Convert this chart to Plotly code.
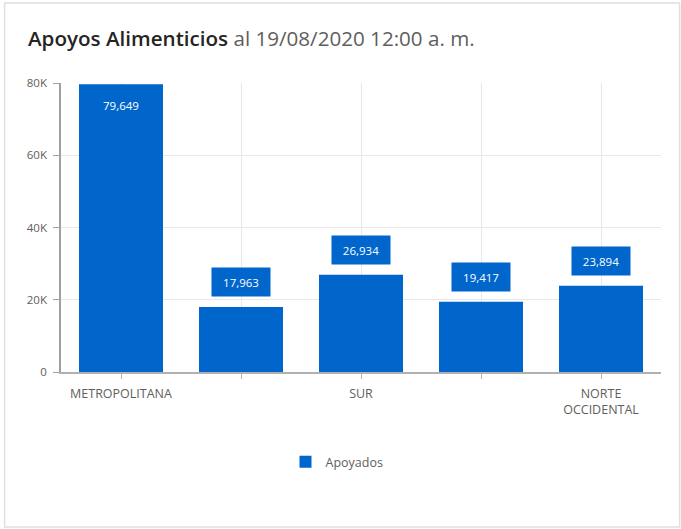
import plotly.graph_objects as go

categories = ["METROPOLITANA", "NORTE", "SUR", "ORIENTAL", "NORTE<br>OCCIDENTAL"]
tick_text = ["METROPOLITANA", "", "SUR", "", "NORTE<br>OCCIDENTAL"]
apoyados = [79649, 17963, 26934, 19417, 23894]
y_ticks = [0, 20000, 40000, 60000, 80000]
y_tick_text = ["0", "20K", "40K", "60K", "80K"]

BLUE = "#0066cc"
FONT = "Open Sans"
xs = list(range(len(categories)))

fig = go.Figure()
fig.add_trace(go.Bar(
    x=xs, y=apoyados, name="Apoyados", width=0.7,
    marker=dict(color=BLUE, line=dict(width=0)),
    hovertemplate="%{y:,}<extra></extra>",
))

annotations = []
for i, v in zip(xs, apoyados):
    txt = f"{v:,}"
    if v > 70000:
        annotations.append(dict(x=i, y=v, xref="x", yref="y", text=txt, showarrow=False,
                                yshift=-21, font=dict(family=FONT, size=11.5, color="white")))
    else:
        annotations.append(dict(x=i, y=v, xref="x", yref="y", text=txt, showarrow=False,
                                yshift=25, bgcolor=BLUE, borderpad=7, width=44, height=14,
                                font=dict(family=FONT, size=11.5, color="white")))

annotations.append(dict(
    xref="paper", yref="paper", x=-0.058, y=1.157, xanchor="left", yanchor="middle",
    showarrow=False,
    text="<span style='color:#252423;font-weight:600'>Apoyos Alimenticios</span>"
         "<span style='color:#605e5c'> al 19/08/2020 12:00 a. m.</span>",
    font=dict(family=FONT, size=20.6),
))

fig.update_layout(
    width=681, height=529,
    margin=dict(l=61, r=20, t=83, b=157),
    paper_bgcolor="white", plot_bgcolor="white",
    font=dict(family=FONT, size=12, color="#605e5c"),
    bargap=0.3,
    showlegend=True,
    legend=dict(orientation="h", x=0.46, xanchor="center", y=-0.26, yanchor="top",
                font=dict(family=FONT, size=12.5, color="#605e5c")),
    annotations=annotations,
    shapes=[dict(type="rect", xref="paper", yref="paper",
                 x0=-0.094, x1=1.031, y0=-0.536, y1=1.277,
                 line=dict(color="#e0e0e0", width=1.5), fillcolor="rgba(0,0,0,0)", layer="below")],
)
fig.update_xaxes(
    range=[-0.5, 4.5], tickvals=xs, ticktext=tick_text,
    showgrid=True, gridcolor="#e8e8e8", gridwidth=1,
    showline=True, linecolor="#b0b0b0", linewidth=1.5,
    ticks="outside", ticklen=5, tickcolor="#b0b0b0",
    ticklabelstandoff=4,
    tickfont=dict(family=FONT, size=12.5, color="#605e5c"),
    fixedrange=True, zeroline=False,
)
fig.update_yaxes(
    range=[0, 80000], tickvals=y_ticks, ticktext=y_tick_text,
    showgrid=True, gridcolor="#e8e8e8", gridwidth=1,
    showline=True, linecolor="#a0a0a0", linewidth=1.5,
    ticks="outside", ticklen=6, tickcolor="#a0a0a0",
    ticklabelstandoff=4,
    tickfont=dict(family=FONT, size=11.5, color="#605e5c"),
    fixedrange=True, zeroline=False,
)

fig.write_html("out.html", config={"displayModeBar": False},
               post_script="document.body.style.margin='0';")
